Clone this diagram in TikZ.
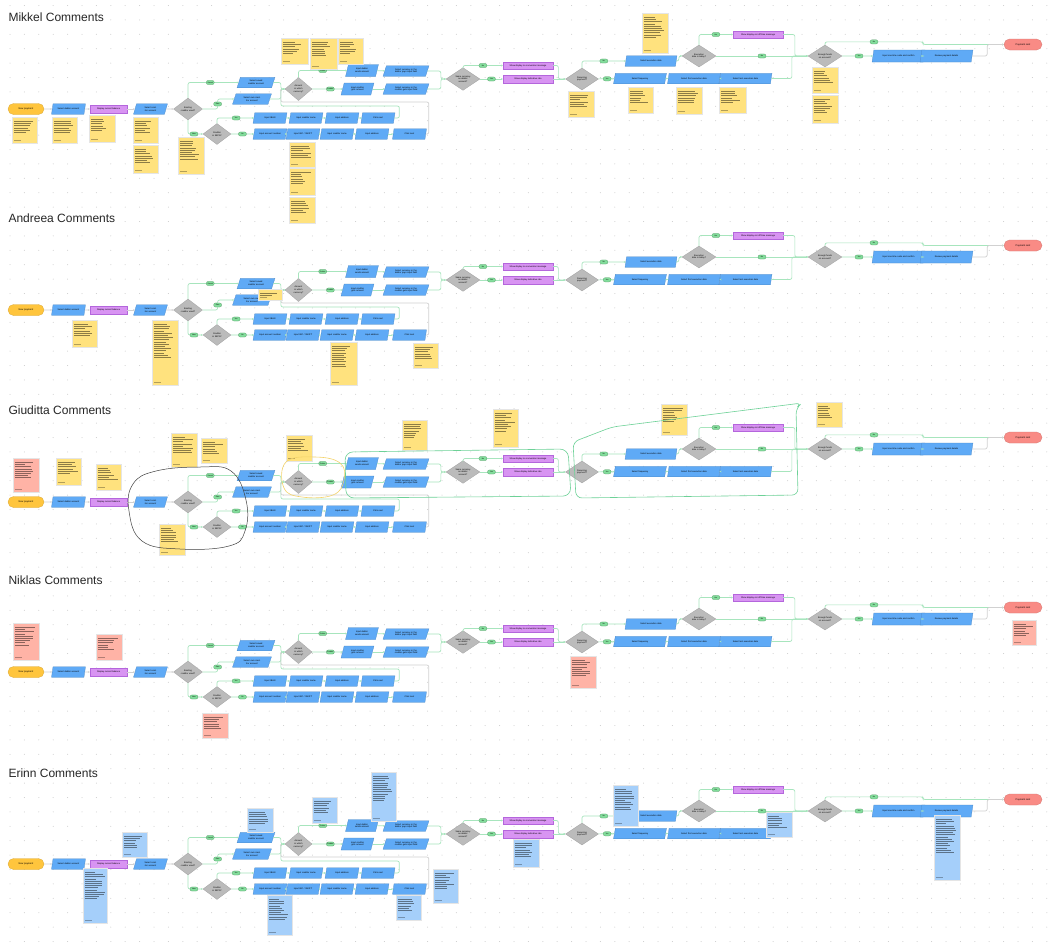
\documentclass[tikz,border=0pt]{standalone}
\usepackage{fontspec}
\setmainfont{Liberation Sans}
\usetikzlibrary{positioning, shapes.geometric, arrows.meta}
\definecolor{startorange}{HTML}{FFC53D}
\definecolor{endred}{HTML}{F98B85}
\definecolor{stepblue}{HTML}{5FAAF6}
\definecolor{showpurple}{HTML}{D894F2}
\definecolor{showedge}{HTML}{B466DC}
\definecolor{askgray}{HTML}{BBBBBB}
\definecolor{flowgreen}{HTML}{A7E5BD}
\definecolor{chipgreen}{HTML}{82DD9B}
\definecolor{penggreen}{HTML}{6DD197}
\definecolor{penyellow}{HTML}{F3D36A}
\definecolor{noteyellow}{HTML}{FFE27E}
\definecolor{notepink}{HTML}{FFB3A6}
\definecolor{noteblue}{HTML}{A5CFFA}
\definecolor{dotgray}{HTML}{C9C9C9}

\tikzset{
  terminal/.style={rectangle, rounded corners=5.5pt, draw=#1!85!black, line width=0.3pt, fill=#1,
    minimum width=36pt, minimum height=11pt, inner sep=0pt, font=\fontsize{2.4}{2.8}\selectfont},
  stepbox/.style={trapezium, trapezium left angle=63, trapezium right angle=117, trapezium stretches=true,
    fill=stepblue, draw=stepblue!80!black, line width=0.25pt, minimum width=34pt, minimum height=10.5pt,
    inner sep=0.3pt, text width=22pt, align=center, font=\fontsize{2.2}{2.6}\selectfont},
  showbox/.style={rectangle, fill=showpurple, draw=showedge, line width=0.35pt, minimum width=50pt,
    minimum height=7.5pt, inner sep=0pt, font=\fontsize{2.2}{2.6}\selectfont},
  askbox/.style={diamond, fill=askgray, draw=askgray!85!black, line width=0.25pt, minimum width=34pt,
    minimum height=22pt, inner sep=0pt, text width=16pt, align=center, font=\fontsize{2.2}{2.6}\selectfont},
  chip/.style={rectangle, fill=chipgreen, draw=chipgreen!70!black, line width=0.25pt, minimum width=8pt,
    minimum height=4.2pt, inner sep=0.3pt, font=\fontsize{1.8}{2}\selectfont},
  flow/.style={draw=flowgreen, line width=0.7pt, rounded corners=2pt, -{Stealth[length=1.8pt,width=1.8pt]}},
  link/.style={draw=black!18, line width=0.7pt, rounded corners=2pt, -{Stealth[length=1.8pt,width=1.8pt]}},
  note/.style={rectangle, draw=black!10, line width=0.3pt, inner sep=0pt},
  notelines/.style={path picture={
    \foreach \k in {1,...,#1}{\draw[\notecol!55!black, line width=0.25pt]
      ([xshift=2pt,yshift={-2pt-2.2pt*\k}]path picture bounding box.north west) -- ++({10+10*rnd},0);}
    \draw[\notecol!70!black, line width=0.25pt] ([xshift=2pt,yshift=3pt]path picture bounding box.south west) -- ++(7,0);}},
  heading/.style={anchor=west, font=\fontsize{12}{14}\selectfont, text=black!85}
}

% one sticky note: name, colour, x1, y1, x2, y2
\newcommand\sticky[6]{%
  \def\notecol{#2}%
  \pgfmathsetmacro\notew{#5-#3}\pgfmathsetmacro\noteh{#6-#4}%
  \pgfmathtruncatemacro\notelns{max(1,0.55*\noteh/2.2)}%
  \node[note, fill=#2, minimum width=\notew pt, minimum height=\noteh pt, notelines=\notelns]
    (#1) at ({(#3+#5)/2},{(#4+#6)/2}) {};}

% the payment flow, moved down by #1, node names prefixed by #2
\newcommand\payflow[2]{%
\begin{scope}[shift={(0,#1)}, name prefix=#2-]
  \node (start) [terminal=startorange] at (26,109) {New payment};
  \node (debtor) [stepbox] at (68.5,109) {Select debtor account};
  \node (balance) [showbox, minimum width=37pt] at (108.5,109) {Display current balance};
  \node (creditor) [stepbox] at (150.5,109) {Select creditor account};
  \node (known) [askbox, minimum width=29pt] at (188,109) {Existing creditor used?};

  \node (saved) [stepbox, minimum width=38pt] at (256,82.5) {Select saved creditor account};
  \node (own) [stepbox, minimum width=39pt] at (252,99) {Select own creditor account};
  \node (sepa) [askbox, minimum width=28pt, minimum height=21pt] at (217,134) {Creditor in SEPA?};

  \node (iban) [stepbox] at (270,118) {Input IBAN};
  \node (name1) [stepbox] at (306,118) {Input creditor name};
  \node (addr1) [stepbox] at (342,118) {Input address};
  \node (next1) [stepbox] at (378,118) {Click next};
  \node (accno) [stepbox] at (270,134) {Input account number};
  \node (bic) [stepbox] at (303,134) {Input BIC / SWIFT};
  \node (name2) [stepbox] at (337,134) {Input creditor name};
  \node (addr2) [stepbox] at (372,134) {Input address};
  \node (next2) [stepbox] at (409.5,134) {Click next};

  \node (amount) [askbox, minimum width=27pt] at (298.5,89) {Amount in which currency?};
  \node (sends) [stepbox, minimum width=33pt, minimum height=12pt] at (362,70.5) {Input debtor sends amount};
  \node (cursend) [stepbox, minimum width=46pt, text width=30pt] at (406,71) {Select currency in the debtor pays input field};
  \node (gets) [stepbox, minimum width=33pt, minimum height=12pt] at (357.5,89) {Input creditor gets amount};
  \node (curget) [stepbox, minimum width=46pt, text width=30pt] at (406,89) {Select currency in the creditor gets input field};

  \node (same) [askbox, minimum height=21pt] at (463,79) {Same currency as debtor account?};
  \node (convmsg) [showbox] at (528,65.5) {Show display no conversion message};
  \node (ratemsg) [showbox, minimum height=8pt] at (528,79) {Show display indicative rate};

  \node (recur) [askbox, minimum width=33pt] at (582,79) {Recurring payment?};
  \node (execdate) [stepbox, minimum width=52pt, text width=36pt] at (651,61) {Select execution date};
  \node (freq) [stepbox, minimum width=53pt, text width=36pt] at (640,78.5) {Select frequency};
  \node (firstdate) [stepbox, minimum width=53pt, text width=36pt] at (694,78.5) {Select first execution date};
  \node (lastdate) [stepbox, minimum width=53pt, text width=36pt] at (745.5,78.5) {Select last execution date};

  \node (today) [askbox] at (699,56) {Execution date is today?};
  \node (cutoff) [showbox] at (758,34.5) {Show display cut-off time message};
  \node (funds) [askbox] at (825,56) {Enough funds on account?};
  \node (sign) [stepbox, minimum width=53pt, minimum height=12pt, text width=36pt] at (898.5,56) {Input one-time code and confirm};
  \node (review) [stepbox, minimum width=53pt, minimum height=12pt, text width=36pt] at (946.5,56) {Review payment details};
  \node (done) [terminal=endred, minimum width=38pt] at (1023,44.5) {Payment sent};

  \draw (start) edge [link] (debtor);
  \draw (debtor) edge [link] (balance);
  \draw (balance) edge [link] (creditor);
  \draw (creditor) edge [link] (known);

  \draw[flow] (known.north) |- node[chip,pos=0.72]{Saved} (saved);
  \draw[flow] (known.east) -- ++(15,0) |- node[chip,pos=0.25]{Own} (own);
  \draw[flow] (known.south) |- node[chip,pos=0.7]{New} (sepa);
  \draw[flow] (sepa.north) |- node[chip,pos=0.76]{Yes} (iban);
  \draw[flow] (sepa) -- node[chip]{No} (accno);

  \draw (iban) edge [flow] (name1);
  \draw (name1) edge [flow] (addr1);
  \draw (addr1) edge [flow] (next1);
  \draw (accno) edge [flow] (bic);
  \draw (bic) edge [flow] (name2);
  \draw (name2) edge [flow] (addr2);
  \draw (addr2) edge [flow] (next2);

  \draw[flow] (saved.east) -| ([xshift=-4pt]amount.west) -- (amount.west);
  \draw[flow] (own.east) -| ([xshift=-4pt]amount.west) -- (amount.west);
  \draw[flow] (next1.east) -- ++(5,0) -- ++(0,-12) -| ([xshift=-4pt]amount.west) -- (amount.west);
  \draw[link] (next2.east) -- ++(3,0) -- ++(0,-32) -| ([xshift=-4pt]amount.west);

  \draw[flow] (amount.north) |- node[chip,pos=0.75]{Debtor} (sends);
  \draw[flow] (amount) -- node[chip,pos=0.6]{Creditor} (gets);
  \draw (sends) edge [flow] (cursend);
  \draw (gets) edge [flow] (curget);
  \draw[flow] (cursend.east) -| ([xshift=-5pt]same.west) -- (same.west);
  \draw[flow] (curget.east) -| ([xshift=-5pt]same.west) -- (same.west);

  \draw[flow] (same.north) |- node[chip,pos=0.75]{No} (convmsg);
  \draw[flow] (same) -- node[chip]{Yes} (ratemsg);
  \draw[flow] (convmsg.east) -| ([xshift=-7pt]recur.west) -- (recur.west);
  \draw[flow] (ratemsg) -- (recur);

  \draw[flow] (recur.north) |- node[chip,pos=0.75]{No} (execdate);
  \draw[flow] (recur) -- node[chip,pos=0.55]{Yes} (freq);
  \draw (freq) edge [flow] (firstdate);
  \draw (firstdate) edge [flow] (lastdate);
  \draw[flow] (execdate.east) -| ([xshift=-3pt]today.west) -- (today.west);
  \draw[flow] (lastdate.east) -| ([xshift=-16pt]funds.west) -- (funds.west);

  \draw[flow] (today.north) |- node[chip,pos=0.75]{Yes} (cutoff);
  \draw[flow] (cutoff.east) -| ([xshift=-13pt]funds.west) -- (funds.west);
  \draw[flow] (today) -- node[chip]{No} (funds);

  \draw[flow] (funds.north) -- ++(0,-3) -- node[chip]{No} ++(98,0) |- (done.west);
  \draw[flow] (funds) -- node[chip,pos=0.55]{Yes} (sign);
  \draw (sign) edge [flow] (review);
  \draw[link] (review.east) -- ++(15,0) |- (done.west);
\end{scope}}

\begin{document}
\begin{tikzpicture}[x=1pt, y=-1pt]
  \useasboundingbox[fill=white] (0,0) rectangle (1055,946);
  \pgfmathsetseed{11}

  % dotted canvas
  \foreach \i in {0,...,72}
    \foreach \j in {0,...,65}
      \fill[dotgray] ({10+14.4*\i},{5.5+14.4*\j}) circle (0.5pt);

  % ---------- Mikkel ----------
  \node (mk-title) [heading] at (5,17) {Mikkel Comments};
  \payflow{0}{mk}
  \sticky{mk-n1}{noteyellow}{12}{117}{37}{143}
  \sticky{mk-n2}{noteyellow}{52}{117}{77}{143}
  \sticky{mk-n3}{noteyellow}{89}{115}{115}{142}
  \sticky{mk-n4}{noteyellow}{133}{117}{158}{143}
  \sticky{mk-n5}{noteyellow}{133}{145}{158}{173}
  \sticky{mk-n6}{noteyellow}{178}{137}{204}{174}
  \sticky{mk-n7}{noteyellow}{281}{38}{308}{64}
  \sticky{mk-n8}{noteyellow}{310}{38}{337}{69}
  \sticky{mk-n9}{noteyellow}{338}{38}{363}{64}
  \sticky{mk-n10}{noteyellow}{289}{142}{315}{167}
  \sticky{mk-n11}{noteyellow}{289}{168}{315}{195}
  \sticky{mk-n12}{noteyellow}{289}{197}{315}{223}
  \sticky{mk-n13}{noteyellow}{568}{91}{594}{117}
  \sticky{mk-n14}{noteyellow}{642}{13}{668}{53}
  \sticky{mk-n15}{noteyellow}{628}{87}{653}{113}
  \sticky{mk-n16}{noteyellow}{676}{87}{702}{114}
  \sticky{mk-n17}{noteyellow}{719}{87}{746}{113}
  \sticky{mk-n18}{noteyellow}{812}{67}{838}{93}
  \sticky{mk-n19}{noteyellow}{812}{95}{838}{123}

  % ---------- Andreea ----------
  \node (an-title) [heading] at (5,218) {Andreea Comments};
  \payflow{201}{an}
  \sticky{an-n1}{noteyellow}{72}{320}{97}{347}
  \sticky{an-n2}{noteyellow}{152}{320}{178}{385}
  \sticky{an-n3}{noteyellow}{258}{289}{282}{300}
  \sticky{an-n4}{noteyellow}{330}{342}{357}{385}
  \sticky{an-n5}{noteyellow}{413}{343}{438}{368}

  % ---------- Giuditta ----------
  \node (gi-title) [heading] at (5,410) {Giuditta Comments};
  \payflow{393}{gi}
  \sticky{gi-n1}{notepink}{13}{458}{39}{492}
  \sticky{gi-n2}{noteyellow}{56}{458}{81}{485}
  \sticky{gi-n3}{noteyellow}{96}{464}{121}{490}
  \sticky{gi-n4}{noteyellow}{171}{433}{197}{467}
  \sticky{gi-n5}{noteyellow}{201}{438}{227}{463}
  \sticky{gi-n6}{noteyellow}{286}{435}{312}{461}
  \sticky{gi-n7}{noteyellow}{159}{524}{185}{555}
  \sticky{gi-n8}{noteyellow}{402}{420}{427}{450}
  \sticky{gi-n9}{noteyellow}{493}{409}{518}{447}
  \sticky{gi-n10}{noteyellow}{661}{404}{687}{435}
  \sticky{gi-n11}{noteyellow}{816}{402}{842}{427}
  % hand-drawn marks
  \draw[black!75, line width=0.5pt] plot[smooth cycle, tension=0.7] coordinates
    {(200,467) (231,471) (246,500) (245,531) (229,546) (180,549) (142,541) (129,511) (133,484) (156,471)};
  \draw[penyellow, line width=0.6pt] plot[smooth cycle, tension=0.7] coordinates
    {(286,462) (315,457) (340,463) (344,480) (333,495) (302,497) (284,488)};
  \draw[penggreen, line width=0.6pt, rounded corners=8pt] (345,452) -- (568,449) -- (571,496) -- (346,498) -- cycle;
  \draw[penggreen, line width=0.6pt, rounded corners=6pt] (576,498) -- (573,442) -- (612,427) -- (802,403)
    -- (796,408) -- (798,495) -- cycle;

  % ---------- Niklas ----------
  \node (ni-title) [heading] at (5,580) {Niklas Comments};
  \payflow{563}{ni}
  \sticky{ni-n1}{notepink}{13}{623}{39}{660}
  \sticky{ni-n2}{notepink}{96}{634}{122}{660}
  \sticky{ni-n3}{notepink}{202}{713}{228}{738}
  \sticky{ni-n4}{notepink}{570}{656}{596}{688}
  \sticky{ni-n5}{notepink}{1012}{620}{1036}{645}

  % ---------- Erinn ----------
  \node (er-title) [heading] at (5,773) {Erinn Comments};
  \payflow{755}{er}
  \sticky{er-n1}{noteblue}{83}{868}{107}{923}
  \sticky{er-n2}{noteblue}{122}{832}{147}{857}
  \sticky{er-n3}{noteblue}{247}{808}{273}{832}
  \sticky{er-n4}{noteblue}{312}{797}{337}{823}
  \sticky{er-n5}{noteblue}{371}{772}{396}{821}
  \sticky{er-n6}{noteblue}{267}{895}{292}{935}
  \sticky{er-n7}{noteblue}{396}{895}{421}{920}
  \sticky{er-n8}{noteblue}{433}{869}{458}{903}
  \sticky{er-n9}{noteblue}{513}{839}{539}{867}
  \sticky{er-n10}{noteblue}{613}{785}{638}{826}
  \sticky{er-n11}{noteblue}{766}{812}{792}{837}
  \sticky{er-n12}{noteblue}{934}{815}{960}{880}
\end{tikzpicture}
\end{document}
